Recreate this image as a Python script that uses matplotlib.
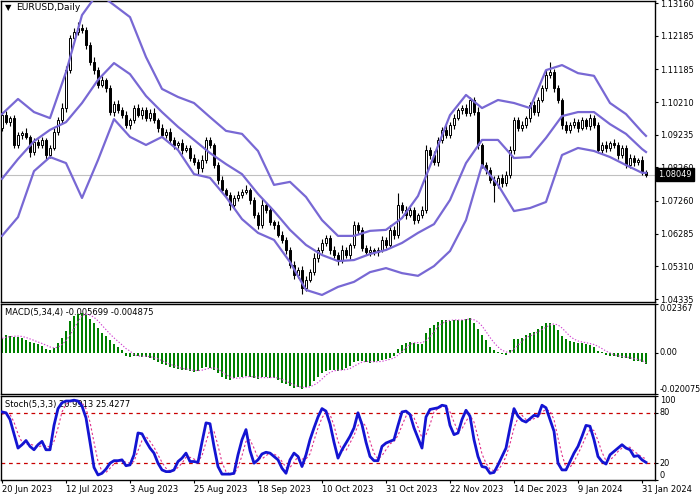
import matplotlib
matplotlib.use("Agg")
import matplotlib.pyplot as plt
import numpy as np

W, H = 700, 500

# --- data -------------------------------------------------------------------
date_labels = ["20 Jun 2023", "12 Jul 2023", "3 Aug 2023", "25 Aug 2023",
               "18 Sep 2023", "10 Oct 2023", "31 Oct 2023", "22 Nov 2023",
               "14 Dec 2023", "9 Jan 2024", "31 Jan 2024"]
date_bars = [0, 16, 32, 48, 64, 80, 96, 112, 128, 144, 160]

first_open = 1.0944
closes = [
    1.0982, 1.0961, 1.0973, 1.0893, 1.0923, 1.0929, 1.0917, 1.0872, 1.0902, 1.0893,
    1.0908, 1.0863, 1.0884, 1.0932, 1.0967, 1.1003, 1.1116, 1.1212, 1.1230, 1.1242,
    1.1236, 1.1191, 1.1140, 1.1116, 1.1072, 1.1087, 1.1063, 1.0991, 1.1015, 1.0997,
    1.0982, 1.0953, 1.0967, 1.1003, 1.0982, 1.0997, 1.0973, 1.0988, 1.0967, 1.0944,
    1.0923, 1.0932, 1.0908, 1.0893, 1.0899, 1.0878, 1.0884, 1.0854, 1.0842, 1.0824,
    1.0848, 1.0908, 1.0893, 1.0833, 1.0789, 1.0759, 1.0744, 1.0714, 1.0735, 1.0744,
    1.0753, 1.0759, 1.0729, 1.0684, 1.0655, 1.0714, 1.0699, 1.0663, 1.0655, 1.0625,
    1.0610, 1.0580, 1.0535, 1.0506, 1.0521, 1.0467, 1.0491, 1.0514, 1.0556, 1.0580,
    1.0601, 1.0616, 1.0580, 1.0565, 1.0550, 1.0580, 1.0565, 1.0595, 1.0655, 1.0640,
    1.0586, 1.0574, 1.0580, 1.0574, 1.0580, 1.0610, 1.0595, 1.0640, 1.0625, 1.0714,
    1.0699, 1.0684, 1.0699, 1.0669, 1.0684, 1.0699, 1.0878, 1.0863, 1.0842, 1.0908,
    1.0938, 1.0923, 1.0953, 1.0973, 1.0997, 1.1003, 1.0988, 1.1027, 1.0991, 1.0893,
    1.0833, 1.0818, 1.0789, 1.0774, 1.0795, 1.0780, 1.0804, 1.0878, 1.0967, 1.0944,
    1.0953, 1.0973, 1.1012, 1.0991, 1.1027, 1.1063, 1.1101, 1.1110, 1.1063, 1.1027,
    1.0953, 1.0938, 1.0953, 1.0961, 1.0944, 1.0967, 1.0950, 1.0973, 1.0953, 1.0878,
    1.0893, 1.0884, 1.0899, 1.0893, 1.0863, 1.0884, 1.0833, 1.0854, 1.0842, 1.0848,
    1.0812, 1.08049,
]
# wick lengths in pips above / below the body
up_wick = [
    8, 12, 6, 10, 9, 7, 14, 6, 11, 8,
    10, 7, 9, 12, 10, 15, 13, 9, 11, 17,
    12, 8, 10, 14, 9, 12, 7, 10, 8, 11,
    9, 13, 7, 10, 12, 8, 9, 11, 14, 6,
    10, 8, 12, 9, 7, 11, 10, 8, 13, 9,
    15, 8, 10, 7, 9, 12, 6, 10, 8, 11,
    9, 14, 7, 10, 8, 18, 9, 12, 7, 10,
    11, 8, 9, 13, 7, 10, 12, 8, 15, 9,
    11, 10, 8, 12, 9, 14, 10, 7, 11, 9,
    8, 10, 12, 7, 9, 11, 8, 13, 10, 36,
    9, 12, 8, 10, 7, 11, 14, 9, 12, 10,
    8, 13, 9, 11, 7, 10, 12, 8, 9, 14,
    7, 10, 8, 11, 9, 12, 10, 13, 8, 9,
    11, 7, 10, 12, 8, 9, 14, 30, 8, 10,
    7, 12, 9, 11, 8, 10, 7, 13, 9, 8,
    10, 12, 7, 11, 9, 8, 10, 13, 9, 7,
    11, 6,
]
down_wick = [
    10, 7, 12, 9, 8, 11, 6, 15, 9, 10,
    8, 12, 9, 7, 10, 8, 11, 9, 7, 10,
    9, 11, 8, 12, 10, 7, 13, 9, 11, 8,
    10, 8, 12, 9, 7, 11, 10, 8, 9, 12,
    7, 10, 9, 11, 8, 12, 7, 10, 9, 18,
    11, 8, 10, 9, 12, 7, 10, 14, 8, 9,
    10, 7, 11, 9, 13, 8, 10, 9, 12, 7,
    10, 12, 9, 11, 8, 18, 10, 7, 9, 11,
    8, 10, 12, 9, 14, 8, 10, 11, 9, 12,
    10, 8, 11, 9, 12, 7, 10, 9, 11, 8,
    10, 12, 7, 11, 9, 8, 10, 12, 9, 11,
    8, 10, 9, 12, 7, 11, 9, 10, 8, 12,
    9, 11, 10, 51, 8, 12, 9, 10, 11, 8,
    10, 9, 12, 8, 11, 7, 10, 9, 12, 8,
    11, 9, 10, 8, 12, 7, 10, 11, 9, 10,
    8, 11, 9, 10, 12, 8, 10, 9, 11, 8,
    10, 7,
]

# Bollinger bands, read every 4th bar (plus the last one)
band_bars = list(range(0, 161, 4)) + [161]
bb_upper = [
    1.0985, 1.1030, 1.0991, 1.0973, 1.1110, 1.1280, 1.1346, 1.1310, 1.1274, 1.1155,
    1.1060, 1.1036, 1.1018, 1.0976, 1.0935, 1.0926, 1.0875, 1.0774, 1.0783, 1.0738,
    1.0669, 1.0622, 1.0622, 1.0637, 1.0640, 1.0675, 1.0741, 1.0860, 1.0982, 1.1042,
    1.1003, 1.1027, 1.1018, 1.1003, 1.1116, 1.1131, 1.1107, 1.1099, 1.1018, 1.0985,
    1.0932, 1.0920,
]
bb_middle = [
    1.0792, 1.0851, 1.0904, 1.0938, 1.0961, 1.1018, 1.1087, 1.1137, 1.1104, 1.1039,
    1.0991, 1.0947, 1.0908, 1.0869, 1.0836, 1.0806, 1.0747, 1.0696, 1.0640, 1.0595,
    1.0565, 1.0547, 1.0550, 1.0568, 1.0580, 1.0601, 1.0631, 1.0657, 1.0729, 1.0839,
    1.0908, 1.0908, 1.0854, 1.0857, 1.0914, 1.0979, 1.0991, 1.0991, 1.0955, 1.0926,
    1.0881, 1.0872,
]
bb_lower = [
    1.0622, 1.0678, 1.0815, 1.0857, 1.0839, 1.0735, 1.0848, 1.0970, 1.0917, 1.0893,
    1.0917, 1.0878, 1.0806, 1.0795, 1.0738, 1.0672, 1.0631, 1.0610, 1.0544, 1.0461,
    1.0446, 1.0470, 1.0485, 1.0514, 1.0526, 1.0511, 1.0503, 1.0532, 1.0577, 1.0669,
    1.0833, 1.0774, 1.0696, 1.0705, 1.0723, 1.0863, 1.0884, 1.0875, 1.0857, 1.0833,
    1.0810, 1.0810,
]

# MACD(5,34,4) in units of 1e-4
macd_hist_e4 = [
    73, 87, 83, 78, 78, 73, 63, 53, 49, 44,
    34, 19, 15, 24, 49, 73, 107, 156, 180, 190,
    194, 185, 165, 146, 122, 97, 83, 63, 44, 29,
    15, -15, -19, -15, -15, -19, -19, -24, -34, -44,
    -53, -58, -68, -73, -78, -83, -83, -87, -92, -87,
    -73, -68, -73, -83, -97, -117, -126, -131, -122, -117,
    -117, -112, -117, -122, -126, -117, -117, -122, -122, -131,
    -146, -151, -160, -170, -165, -175, -165, -160, -136, -117,
    -97, -87, -83, -83, -87, -83, -73, -63, -44, -39,
    -39, -44, -49, -44, -39, -34, -29, -24, -15, 19,
    39, 49, 53, 49, 44, 44, 97, 122, 136, 151,
    160, 160, 156, 160, 160, 160, 165, 170, 146, 117,
    87, 63, 29, 15, 5, -5, -10, 15, 68, 68,
    73, 87, 97, 102, 117, 131, 146, 146, 136, 112,
    83, 68, 58, 53, 49, 49, 44, 39, 29, 10,
    2, -10, -15, -15, -19, -24, -24, -29, -39, -39,
    -44, -56.99,
]
macd_signal_e4 = [
    70, 75, 78, 80, 81, 79, 74, 67, 60, 52,
    45, 37, 28, 23, 27, 40, 58, 86, 118, 150,
    180, 187, 183, 172, 155, 133, 112, 91, 72, 55,
    38, 20, 8, -9, -16, -17, -17, -19, -24, -30,
    -39, -47, -56, -63, -69, -76, -79, -83, -86, -87,
    -85, -80, -75, -74, -80, -93, -106, -118, -124, -124,
    -122, -117, -116, -117, -119, -121, -121, -121, -120, -123,
    -130, -138, -147, -157, -164, -168, -169, -166, -157, -145,
    -128, -109, -96, -88, -85, -84, -82, -77, -66, -55,
    -46, -42, -43, -44, -44, -42, -37, -32, -26, -12,
    5, 23, 40, 48, 49, 48, 59, 77, 100, 127,
    142, 152, 157, 159, 159, 159, 161, 164, 160, 150,
    130, 103, 74, 49, 28, 12, 4, 1, 17, 35,
    56, 74, 81, 90, 101, 112, 124, 135, 140, 135,
    120, 100, 80, 66, 57, 52, 49, 44, 40, 31,
    20, 8, -1, -10, -15, -18, -21, -24, -29, -33,
    -38, -48.75,
]

# Stochastic(5,3,3)
stoch_main = [
    81, 80, 72, 55, 38, 42, 47, 40, 36, 42,
    46, 36, 36, 65, 85, 92, 94, 94, 95, 94,
    88, 74, 45, 15, 6, 8, 13, 20, 23, 23,
    24, 17, 18, 30, 56, 55, 46, 38, 32, 20,
    12, 10, 10, 12, 22, 26, 32, 22, 22, 21,
    45, 68, 67, 40, 16, 7, 7, 7, 8, 30,
    48, 60, 35, 20, 24, 31, 33, 32, 28, 24,
    14, 8, 24, 32, 28, 16, 30, 48, 62, 75,
    85, 82, 67, 45, 26, 36, 44, 52, 62, 80,
    66, 45, 28, 23, 23, 40, 44, 46, 48, 65,
    81, 82, 78, 62, 50, 38, 75, 84, 85, 86,
    89, 88, 65, 54, 56, 72, 83, 76, 48, 28,
    16, 15, 8, 9, 18, 28, 38, 62, 85, 76,
    71, 69, 73, 77, 76, 89, 86, 72, 58, 20,
    12, 12, 22, 32, 40, 52, 65, 64, 48, 28,
    22, 19, 30, 34, 38, 42, 38, 36, 28, 29,
    24, 20.99,
]
stoch_signal = [
    78, 80, 78, 69, 55, 45, 42, 43, 41, 39,
    41, 41, 39, 46, 62, 81, 90, 93, 94, 94,
    92, 85, 69, 45, 22, 10, 9, 14, 19, 22,
    23, 21, 20, 22, 35, 47, 52, 46, 39, 30,
    21, 14, 11, 11, 15, 20, 27, 27, 25, 22,
    29, 45, 60, 58, 41, 21, 10, 7, 7, 15,
    29, 46, 48, 38, 26, 25, 29, 32, 31, 28,
    22, 15, 15, 21, 28, 25, 25, 31, 47, 62,
    74, 81, 78, 65, 46, 36, 35, 44, 53, 65,
    69, 64, 46, 32, 25, 29, 36, 43, 46, 53,
    65, 76, 80, 74, 63, 50, 54, 66, 81, 85,
    87, 88, 81, 69, 58, 61, 70, 77, 69, 51,
    31, 20, 13, 11, 12, 18, 28, 43, 62, 74,
    77, 72, 71, 73, 75, 81, 84, 82, 72, 50,
    30, 15, 15, 22, 31, 41, 52, 60, 59, 47,
    33, 23, 24, 28, 34, 38, 39, 39, 34, 31,
    27, 25.43,
]

price_ticks = [1.13160, 1.12185, 1.11185, 1.10210, 1.09235,
               1.08260, 1.07260, 1.06285, 1.05310, 1.04335]
last_price = 1.08049
macd_ticks = [0.02367, 0.0, -0.020075]
macd_tick_labels = ["0.02367", "0.00", "-0.020075"]
stoch_ticks = [100, 80, 20, 0]
stoch_levels = [80, 20]

# --- styling ----------------------------------------------------------------
plt.rcParams["font.family"] = ["DejaVu Sans"]
plt.rcParams["font.size"] = 6.0
TICK_FS = 5.9

BAND_C = "#7868d4"
HIST_C = "#008000"
MSIG_C = "#d040d0"
STOCH_C = "#1414d2"
SSIG_C = "#e0308c"
LEVEL_C = "#c80000"

closes = np.array(closes)
opens = np.concatenate([[first_open], closes[:-1]])
highs = np.maximum(opens, closes) + np.array(up_wick) * 1e-4
lows = np.minimum(opens, closes) - np.array(down_wick) * 1e-4
idx = np.arange(len(closes))


def add_axes_px(fig, left, top, right, bottom):
    return fig.add_axes([left / W, 1 - bottom / H, (right - left) / W, (bottom - top) / H])


fig = plt.figure(figsize=(W / 100, H / 100), dpi=100, facecolor="white")
ax = add_axes_px(fig, 0.5, 0.5, 654.5, 302)
ax_m = add_axes_px(fig, 0.5, 304, 654.5, 394)
ax_s = add_axes_px(fig, 0.5, 396, 654.5, 480)

for a in (ax, ax_m, ax_s):
    a.set_xlim(-0.375, 163.125)
    a.yaxis.tick_right()
    a.tick_params(axis="y", direction="out", length=2.2, width=0.8, pad=1.5,
                  labelsize=TICK_FS, colors="black")
    for sp in a.spines.values():
        sp.set_color("black")
        sp.set_linewidth(1.0)

# main price panel
ax.set_ylim(1.04250, 1.13235)
ax.axhline(last_price, color="#c0c0c0", lw=0.8, zorder=0)
ax.vlines(idx, lows, highs, color="black", lw=0.8, zorder=2)
body_lo = np.minimum(opens, closes)
body_h = np.maximum(np.abs(closes - opens), 0.00008)
bull = closes >= opens
ax.bar(idx[bull], body_h[bull], bottom=body_lo[bull], width=0.72,
       facecolor="white", edgecolor="black", lw=0.7, zorder=3)
ax.bar(idx[~bull], body_h[~bull], bottom=body_lo[~bull], width=0.72,
       facecolor="black", edgecolor="black", lw=0.7, zorder=3)
for band in (bb_upper, bb_middle, bb_lower):
    ax.plot(band_bars, band, color=BAND_C, lw=1.6, zorder=4)
ax.set_xticks([])
ax.set_yticks(price_ticks)
ax.set_yticklabels([f"{v:.5f}" for v in price_ticks])
ax.annotate(f"{last_price:.5f}", xy=(1.0, last_price), xycoords=("axes fraction", "data"),
            xytext=(4, 0), textcoords="offset pixels", ha="left", va="center",
            color="white", fontsize=TICK_FS, annotation_clip=False, zorder=10,
            bbox=dict(boxstyle="square,pad=0.3", fc="black", ec="black"))

# MACD panel
ax_m.set_ylim(-0.020075, 0.02367)
ax_m.set_xticks([])
ax_m.set_yticks(macd_ticks)
ax_m.set_yticklabels(macd_tick_labels)
for lab, va in zip(ax_m.get_yticklabels(), ["top", "center", "bottom"]):
    lab.set_va(va)
# caption sits under the histogram, as in the terminal
ax_m.text(4.5 / 654, 1 - 9 / 90, "MACD(5,34,4) -0.005699 -0.004875",
          transform=ax_m.transAxes, va="center", ha="left", zorder=1)
ax_m.bar(idx, np.array(macd_hist_e4) * 1e-4, width=0.72, color=HIST_C, lw=0, zorder=2)
ax_m.plot(idx, np.array(macd_signal_e4) * 1e-4, color=MSIG_C, lw=0.8,
          ls=(0, (1.2, 1.6)), zorder=3)

# Stochastic panel
ax_s.set_ylim(0, 100)
ax_s.text(4.5 / 654, 1 - 9 / 84, "Stoch(5,3,3) 20.9913 25.4277",
          transform=ax_s.transAxes, va="center", ha="left", zorder=1)
for lvl in stoch_levels:
    ax_s.axhline(lvl, color=LEVEL_C, lw=0.9, ls=(0, (3, 3)), zorder=1)
ax_s.plot(idx, stoch_signal, color=SSIG_C, lw=0.8, ls=(0, (2, 2)), zorder=2)
ax_s.plot(idx, stoch_main, color=STOCH_C, lw=2.0, zorder=3)
ax_s.set_yticks(stoch_ticks)
ax_s.set_yticklabels([str(v) for v in stoch_ticks])
for lab, va in zip(ax_s.get_yticklabels(), ["top", "center", "center", "bottom"]):
    lab.set_va(va)
ax_s.set_xticks(date_bars)
ax_s.set_xticklabels(date_labels, ha="left")
ax_s.tick_params(axis="x", direction="out", length=2.2, width=0.8, pad=1.5,
                 labelsize=6.0, colors="black")

# chart caption
fig.text(5 / W, 1 - 7.5 / H, "\u25bc", fontsize=6, va="center", ha="left")
fig.text(16 / W, 1 - 7.5 / H, "EURUSD,Daily", fontsize=6.6, va="center", ha="left")

fig.savefig("out.png", dpi=100, facecolor="white")
